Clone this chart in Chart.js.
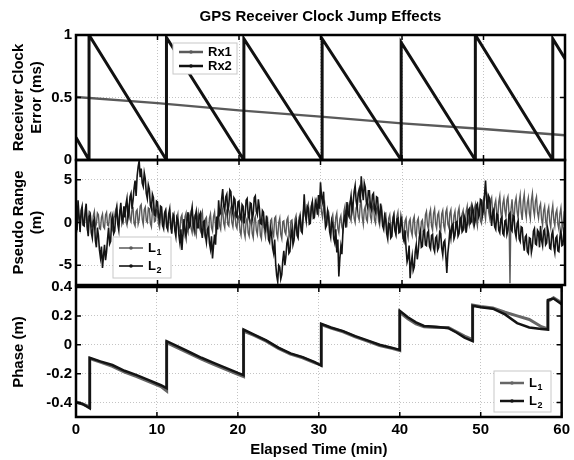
<!DOCTYPE html>
<html>
<head>
<meta charset="utf-8">
<script src="https://cdn.jsdelivr.net/npm/chart.js@4"></script>
<style>
  html, body { margin: 0; padding: 0; background: #fff; }
  #wrap { position: relative; width: 574px; height: 460px; }
  #wrap canvas { position: absolute; left: 0; top: 0; }
</style>
</head>
<body>
<div id="wrap">
  <canvas id="clockChart" width="574" height="460"></canvas>
  <canvas id="rangeChart" width="574" height="460"></canvas>
  <canvas id="phaseChart" width="574" height="460"></canvas>
</div>
<script>
// x axis
var timeTicks = [0, 10, 20, 30, 40, 50, 60];

// receiver clock error (ms)
var rx1Time = [0, 10, 20, 30, 40, 50, 60];
var rx1Err = [0.505, 0.455, 0.397, 0.347, 0.293, 0.248, 0.198];
var rx2Time = [0, 1.6, 1.6, 11.1, 11.1, 20.6, 20.6, 30.2, 30.2, 39.9, 39.9, 49.0, 49.0, 58.5, 58.5, 60];
var rx2Err = [0.18, 0, 1.0, 0, 0.98, 0, 0.97, 0, 0.97, 0, 0.94, 0, 1.0, 0, 0.97, 0.81];
var clockTicks = [0, 0.5, 1];

// pseudo range (m), one sample every 0.125 min, one row per minute
var rangeStep = 0.125;
var rangeL1 = [
  0.3, -0.5, 1.4, 0.4, -0.6, 0.7, 1.1, -0.2,
  -0.3, 0.9, 1.5, -0.4, 0.2, 1.3, 1.2, -0.5,
  -0.5, 0.8, 1.3, -0.6, -0.2, 1.1, 0.9, -0.7,
  -0.8, 0.6, 1.0, -0.5, -0.7, 0.9, 1.2, -0.3,
  -0.4, 0.9, 1.1, -0.6, -0.9, 0.5, 0.8, 1.5,
  1.9, 0.3, -0.1, 1.4, 1.6, -0.2, 0.2, 1.7,
  1.8, 0.1, -0.3, 1.5, 2.0, 0.4, 0.1, 1.6,
  1.7, -0.1, -0.4, 1.3, 1.5, -0.2, 0.3, 1.9,
  2.1, 0.4, -0.2, 1.5, 1.8, 0.2, 0.0, 1.7,
  1.6, -0.1, -0.5, 1.4, 1.9, 0.1, 0.2, 1.5,
  1.4, -0.2, -0.6, 1.1, 1.3, -0.4, -0.3, 1.2,
  1.5, -0.3, -0.8, 0.9, 1.2, -0.6, -0.4, 1.0,
  0.8, -0.8, -1.3, 0.5, 1.0, -0.7, -1.1, 0.6,
  0.9, -0.9, -1.4, 0.7, 1.1, -0.8, -1.2, 0.5,
  1.0, -0.7, -1.2, 0.4, 0.7, -1.0, -1.5, 0.3,
  1.1, -0.5, -0.9, 0.9, 1.3, -0.6, -1.3, 0.4,
  0.6, -1.0, -1.4, 0.5, 1.0, -0.6, -1.0, 0.7,
  1.2, -0.5, -1.1, 0.6, 0.9, -0.4, -0.8, 1.0,
  1.6, -0.1, -0.6, 1.1, 1.4, -0.2, -0.4, 1.3,
  1.7, 0.0, -0.5, 0.9, 1.2, -0.4, -0.7, 0.8,
  0.6, -1.0, -1.5, 0.3, 0.8, -1.1, -1.7, 0.2,
  0.5, -1.2, -1.6, 0.1, 0.4, -1.3, -1.8, 0.3,
  0.7, -0.9, -1.4, 0.2, 0.3, -1.5, -1.9, 0.1,
  0.6, -1.1, -1.7, 0.3, 0.5, -1.2, -1.5, 0.2,
  0.4, -1.2, -1.6, 0.5, 0.7, -1.3, -1.8, 0.0,
  0.5, -1.4, -1.9, 0.1, 0.2, -1.1, -1.4, 0.3,
  0.6, -1.2, -1.7, 0.2, 0.3, -1.3, -1.6, 0.4,
  0.8, -0.7, -1.2, 0.6, 1.0, -0.4, -0.8, 1.2,
  1.9, 0.8, 0.3, 1.8, 2.2, 0.9, 0.5, 2.0,
  2.4, 1.1, 0.7, 2.2, 2.6, 1.2, 0.9, 2.5,
  2.8, 1.2, 0.6, 1.9, 2.3, 0.7, 0.1, 1.5,
  1.2, -0.4, -1.0, 0.5, 0.9, -0.6, -1.1, 0.6,
  1.1, -0.7, -1.2, 0.4, 0.8, -0.5, -0.9, 1.3,
  1.9, 0.4, -0.1, 1.6, 2.1, 0.6, 0.2, 1.8,
  2.2, 0.5, 0.0, 1.7, 2.0, 0.7, 0.3, 2.1,
  2.4, 0.6, -0.2, 1.5, 1.9, 0.4, 0.1, 2.0,
  2.3, 0.7, 0.2, 1.8, 2.1, 0.3, -0.1, 1.6,
  1.8, 0.2, -0.3, 1.4, 1.7, 0.0, -0.4, 1.0,
  1.1, -0.6, -1.1, 0.5, 0.9, -0.7, -1.2, 0.6,
  1.0, -0.8, -1.3, 0.7, 1.2, -0.5, -0.9, 0.4,
  0.6, -1.1, -1.6, 0.2, 0.5, -1.2, -1.8, 0.1,
  0.4, -1.0, -1.5, 0.3, 0.7, -1.3, -1.7, 0.2,
  0.5, -1.3, -1.8, 0.1, 0.3, -1.0, -1.4, 0.9,
  1.3, -0.3, -0.8, 1.0, 1.5, -0.4, -0.9, 1.1,
  1.6, -0.2, -0.7, 0.9, 1.2, -0.5, -1.0, 1.0,
  1.4, -0.4, -0.9, 1.2, 1.6, -0.2, -0.6, 1.1,
  1.5, -0.5, -1.0, 0.8, 1.3, -0.3, -0.7, 1.2,
  1.7, -0.1, -0.6, 1.0, 1.4, -0.4, -0.8, 1.3,
  1.9, 0.2, -0.3, 1.5, 2.0, 0.3, -0.2, 1.6,
  2.1, 0.3, -0.4, 1.4, 1.8, 0.2, -0.1, 2.2,
  2.7, 1.2, 0.4, 2.3, 3.0, 1.3, 0.6, 2.5,
  2.9, 1.0, 0.3, 2.1, 2.6, 1.1, 0.5, 2.4,
  3.1, 1.2, 0.2, 2.2, 2.8, 1.4, 0.7, 2.6,
  3.0, 1.1, -7.1, 1.5, 2.7, 1.0, 0.4, 2.3,
  2.9, 1.3, 0.5, 2.4, 3.2, 1.2, 0.3, 2.5,
  3.3, 1.4, 0.6, 2.3, 2.9, 1.1, 0.4, 2.6,
  3.4, 1.6, 0.8, 2.5, 3.0, 1.2, 0.5, 1.8,
  2.2, 0.4, -0.3, 1.4, 1.9, 0.2, -0.5, 1.3,
  1.8, 0.1, -0.6, 1.2, 2.0, 0.3, -0.4, 1.1,
  1.5, -0.2, -0.8, 1.0, 1.7, 0.0, -0.7, 0.9,
  0.4
];
var rangeL2 = [
  0.2, -0.9, 2.6, 0.8, -1.1, 1.4, 1.9, -0.3,
  -0.4, 1.3, 2.2, -0.5, -1.6, 0.7, 0.9, -1.2,
  -1.8, 0.1, 0.4, -2.1, -2.9, -0.6, -1.5, -3.2,
  -4.1, -2.8, -5.3, -3.9, -2.6, -4.4, -3.4, -1.9,
  -0.6, -2.5, -2.2, 0.3, 0.8, -1.3, -1.0, 0.9,
  1.7, -0.2, -0.9, 1.2, 2.3, 0.4, 0.1, 1.9,
  0.6, 2.1, 2.8, 0.5, 1.2, 3.0, 3.4, 1.6,
  2.6, 4.0, 4.9, 3.1, 5.4, 6.5, 7.2, 5.3,
  6.3, 4.6, 4.2, 5.8, 5.1, 3.4, 2.8, 4.4,
  3.9, 2.0, 1.6, 3.3, 2.9, 0.9, 0.8, 2.5,
  2.4, 0.7, 0.2, 1.9, 1.8, -0.3, -0.7, 1.1,
  1.4, -0.5, -0.8, 1.0, 1.6, -0.4, -1.3, 0.5,
  0.9, -0.9, -1.6, 0.6, 0.3, -1.5, -2.4, -0.8,
  -3.2, -1.3, 0.4, -0.9, -1.7, 0.3, 1.2, -0.6,
  -0.4, 1.0, 1.8, -0.1, -0.9, 0.7, 1.3, -0.6,
  -0.6, 0.8, 1.1, -0.9, -1.8, 0.1, 0.2, -1.5,
  -2.3, -0.8, -0.6, -2.4, -3.1, -1.6, -4.2, -2.7,
  -1.4, -2.6, 0.7, -0.8, 2.6, 0.9, 1.1, 2.8,
  3.9, 1.9, 1.4, 3.0, 3.3, 1.2, 2.0, 3.8,
  3.6, 1.7, 1.0, 2.9, 2.7, 0.8, 0.6, 2.4,
  2.5, 0.6, 0.3, 2.1, 1.9, -0.1, 0.8, 2.6,
  2.8, 0.9, 0.4, 2.3, 2.2, 0.3, 1.0, 2.9,
  3.1, 1.3, 0.9, 2.7, 1.7, -0.1, -0.2, 1.4,
  1.2, -0.6, -0.9, 0.8, -0.4, -2.0, -2.3, -0.7,
  -1.4, -3.0, -3.6, -2.0, -4.8, -6.2, -6.9, -5.0,
  -5.2, -6.6, -6.1, -4.4, -3.3, -5.0, -4.0, -2.4,
  -1.9, -3.6, -3.4, -1.5, -0.8, -2.6, -2.1, -0.4,
  0.1, -1.5, -1.8, 0.2, 0.6, -1.0, -1.2, 0.7,
  3.3, 1.1, 0.2, 1.9, 1.7, -0.2, -0.1, 1.8,
  2.4, 0.5, 0.6, 2.5, 2.1, 0.9, 3.2, 1.6,
  4.7, 3.0, 2.4, 3.6, 1.0, -0.6, -0.3, 1.3,
  0.6, -1.1, -1.7, 0.2, -0.2, -1.9, -2.4, -0.8,
  -3.5, -2.0, -6.3, -4.2, -2.8, -3.7, -1.1, 0.3,
  0.9, -0.6, 2.4, 1.0, 0.7, 2.2, 3.1, 1.4,
  2.2, 3.6, 4.3, 2.5, 1.8, 3.4, 3.9, 2.3,
  5.4, 3.8, 2.6, 4.6, 4.1, 2.4, 1.9, 3.7,
  3.7, 1.9, 1.5, 3.2, 3.4, 1.6, 1.2, 3.0,
  2.9, 1.1, 0.4, 2.2, 1.3, -0.4, -0.8, 0.8,
  0.3, -1.3, -1.9, -0.1, -0.2, -1.8, -1.6, 0.2,
  0.8, -0.9, -1.4, 0.4, 0.5, -1.2, -1.1, 0.6,
  -0.3, -1.8, -2.2, -0.9, -3.0, -4.6, -4.1, -2.7,
  -6.5, -4.8, -3.9, -5.6, -5.2, -3.4, -2.6, -4.3,
  -3.3, -1.7, -1.1, -2.9, -2.8, -1.0, -0.9, -2.6,
  -2.7, -1.2, -1.0, -2.8, -3.1, -1.5, -1.4, -3.0,
  -3.4, -1.8, -1.6, -3.2, -2.9, -1.1, -1.3, -3.0,
  -3.8, -2.3, -2.1, -3.9, -5.9, -3.6, -2.4, -0.9,
  -1.8, -0.4, -0.2, -1.9, -1.5, 0.0, 0.1, -1.6,
  -1.3, 0.4, 0.6, -1.1, -0.9, 0.8, 0.4, -1.2,
  -0.2, 1.4, 1.6, -0.1, 0.1, 1.9, 1.4, -0.3,
  0.3, 2.0, 2.2, 0.6, 0.9, 2.7, 2.6, 0.8,
  1.4, 3.2, 4.9, 2.6, 1.6, 3.1, 2.8, 0.9,
  -0.4, 1.2, 1.5, -0.5, -0.8, 1.0, 0.9, -0.9,
  -1.2, 0.4, 0.6, -1.3, -1.5, 0.2, 0.3, -1.4,
  -0.9, 0.9, 1.1, -0.8, -1.0, 0.8, 0.7, -1.1,
  -1.7, -0.1, 0.2, -1.9, -2.2, -0.5, -0.6, -2.3,
  -3.3, -1.7, -1.5, -3.4, -3.6, -1.8, -1.9, -3.5,
  -2.8, -1.0, -0.7, -2.5, -2.6, -0.9, -1.1, -2.9,
  -0.4, -2.1, -2.7, -1.0, -0.8, -2.6, -2.4, -0.7,
  -1.3, -3.0, -3.1, -1.4, -1.0, -2.8, -3.5, -1.8,
  -1.6, -3.3, -3.4, -1.7, -0.9, -2.7, -2.6, -0.8,
  -1.0
];
var rangeTicks = [-5, 0, 5];

// carrier phase (m)
var phaseTime = [0, 0.8, 1.7, 1.7, 3, 4.5, 6, 7.5, 9, 10.5, 11.2, 11.2, 12.5, 14, 15.5, 17, 18.5, 20, 20.7, 20.7,
  22, 23.5, 25, 26.5, 28, 29.5, 30.3, 30.3, 31.5, 33, 34.5, 36, 37.5, 39, 40, 40, 41, 42, 43, 44.5, 46, 47, 48,
  49.0, 49.0, 50, 51.5, 53, 54.5, 56, 57.5, 58.3, 58.3, 59, 60];
var phaseL1 = [-0.395, -0.41, -0.43, -0.095, -0.12, -0.15, -0.19, -0.22, -0.255, -0.29, -0.32, 0.015, -0.02, -0.06,
  -0.10, -0.135, -0.17, -0.205, -0.22, 0.095, 0.065, 0.025, -0.025, -0.065, -0.09, -0.125, -0.14, 0.14, 0.115, 0.09,
  0.055, 0.025, -0.005, -0.025, -0.04, 0.225, 0.18, 0.145, 0.125, 0.12, 0.12, 0.09, 0.06, 0.035, 0.275, 0.265, 0.255,
  0.225, 0.20, 0.175, 0.125, 0.11, 0.30, 0.325, 0.29];
var phaseL2 = [-0.40, -0.41, -0.44, -0.09, -0.115, -0.14, -0.18, -0.21, -0.245, -0.28, -0.30, 0.025, -0.01, -0.05,
  -0.09, -0.125, -0.16, -0.195, -0.21, 0.105, 0.07, 0.03, -0.02, -0.06, -0.085, -0.12, -0.145, 0.145, 0.12, 0.095,
  0.06, 0.03, 0.0, -0.02, -0.035, 0.235, 0.19, 0.155, 0.13, 0.125, 0.115, 0.085, 0.05, 0.025, 0.27, 0.26, 0.25,
  0.21, 0.15, 0.12, 0.11, 0.105, 0.31, 0.32, 0.28];
var phaseTicks = [-0.4, -0.2, 0, 0.2, 0.4];

var fontFamily = '"Liberation Sans", Arial, sans-serif';
var boldFont = { family: fontFamily, size: 15, weight: 'bold' };

function points(xs, ys) {
  return ys.map(function (v, i) { return { x: xs[i], y: v }; });
}
function sampled(ys, step) {
  return ys.map(function (v, i) { return { x: i * step, y: v }; });
}
function fixedTicks(values) {
  return function (scale) { scale.ticks = values.map(function (v) { return { value: v }; }); };
}

function yAxis(min, max, ticks, title) {
  return {
    type: 'linear', position: 'left', min: min, max: max,
    afterBuildTicks: fixedTicks(ticks),
    afterFit: function (s) { s.width = 76; },
    ticks: { font: boldFont, color: '#000', padding: 4, callback: function (v) { return String(v); } },
    grid: { color: '#c4c4c4', lineWidth: 1, drawTicks: false },
    border: { display: false, dash: [1, 2] },
    title: { display: true, text: title, font: boldFont, color: '#000', padding: { top: 10, bottom: 0 } }
  };
}

function xAxis(showLabels) {
  return {
    type: 'linear', position: 'bottom', min: 0, max: 60,
    afterBuildTicks: fixedTicks(timeTicks),
    afterFit: function (s) { s.height = showLabels ? 43 : 0; },
    ticks: { display: showLabels, font: boldFont, color: '#000', padding: 4, maxRotation: 0,
      callback: function (v) { return String(v); } },
    grid: { color: '#c4c4c4', lineWidth: 1, drawTicks: false },
    border: { display: false, dash: [1, 2] },
    title: { display: showLabels, text: 'Elapsed Time (min)', font: boldFont, color: '#000',
      padding: { top: 0, bottom: 1 } }
  };
}

// box, inner tick marks and the small legend inside each panel
var panelDecor = {
  id: 'panelDecor',
  afterDraw: function (chart, args, opts) {
    var ctx = chart.ctx, a = chart.chartArea;
    var xs = chart.scales.x, ys = chart.scales.y;
    ctx.save();
    ctx.strokeStyle = '#000';
    ctx.lineWidth = 1.5;
    ctx.beginPath();
    xs.ticks.forEach(function (t) {
      var px = xs.getPixelForValue(t.value);
      ctx.moveTo(px, a.bottom); ctx.lineTo(px, a.bottom - 5);
      ctx.moveTo(px, a.top); ctx.lineTo(px, a.top + 5);
    });
    ys.ticks.forEach(function (t) {
      var py = ys.getPixelForValue(t.value);
      ctx.moveTo(a.left, py); ctx.lineTo(a.left + 5, py);
      ctx.moveTo(a.right, py); ctx.lineTo(a.right - 5, py);
    });
    ctx.stroke();
    ctx.lineWidth = 2.5;
    ctx.strokeRect(a.left, a.top, a.right - a.left, a.bottom - a.top);

    var lg = opts.legend;
    if (lg) {
      ctx.fillStyle = '#fff';
      ctx.fillRect(lg.x, lg.y, lg.w, lg.h);
      ctx.strokeStyle = '#c8c8c8';
      ctx.lineWidth = 1;
      ctx.strokeRect(lg.x, lg.y, lg.w, lg.h);
      chart.data.datasets.forEach(function (ds) {
        var y = lg.rows[ds.legendRow];
        ctx.strokeStyle = ds.borderColor;
        ctx.lineWidth = Math.max(1.5, Math.min(ds.borderWidth, 2.5));
        ctx.beginPath();
        ctx.moveTo(lg.lineX[0], y); ctx.lineTo(lg.lineX[1], y);
        ctx.stroke();
        ctx.fillStyle = ds.borderColor;
        ctx.beginPath();
        ctx.arc((lg.lineX[0] + lg.lineX[1]) / 2, y, 1.8, 0, Math.PI * 2);
        ctx.fill();
        ctx.fillStyle = '#000';
        ctx.textBaseline = 'middle';
        ctx.textAlign = 'left';
        ctx.font = 'bold 13px ' + fontFamily;
        ctx.fillText(ds.label, lg.textX, y);
        if (ds.labelSub) {
          var w = ctx.measureText(ds.label).width;
          ctx.font = 'bold 9px ' + fontFamily;
          ctx.fillText(ds.labelSub, lg.textX + w + 0.5, y + 5);
        }
      });
    }
    ctx.restore();
  }
};

var lineEl = { point: { radius: 0 }, line: { tension: 0 } };

new Chart(document.getElementById('clockChart'), {
  type: 'line',
  data: {
    datasets: [
      { label: 'Rx2', legendRow: 1, data: points(rx2Time, rx2Err), borderColor: '#111', borderWidth: 3 },
      { label: 'Rx1', legendRow: 0, data: points(rx1Time, rx1Err), borderColor: '#5a5a5a', borderWidth: 2.5 }
    ]
  },
  options: {
    responsive: false, animation: false, elements: lineEl,
    layout: { padding: { left: 0, right: 9, top: 0, bottom: 300 } },
    scales: { x: xAxis(false), y: yAxis(0, 1, clockTicks, ['Receiver Clock', 'Error (ms)']) },
    plugins: {
      legend: { display: false }, tooltip: { enabled: false },
      title: { display: true, fullSize: false, text: 'GPS Receiver Clock Jump Effects', font: boldFont, color: '#000',
        padding: { top: 8, bottom: 9 } },
      panelDecor: { legend: { x: 173, y: 43, w: 64, h: 31, rows: [52, 66], lineX: [179, 203], textX: 208 } }
    }
  },
  plugins: [panelDecor]
});

new Chart(document.getElementById('rangeChart'), {
  type: 'line',
  data: {
    datasets: [
      { label: 'L', labelSub: '2', legendRow: 1, data: sampled(rangeL2, rangeStep), borderColor: '#141414', borderWidth: 1.6 },
      { label: 'L', labelSub: '1', legendRow: 0, data: sampled(rangeL1, rangeStep), borderColor: '#5a5a5a', borderWidth: 1.4 }
    ]
  },
  options: {
    responsive: false, animation: false, elements: lineEl,
    layout: { padding: { left: 0, right: 9, top: 160, bottom: 175 } },
    scales: { x: xAxis(false), y: yAxis(-7.3, 7.3, rangeTicks, ['Pseudo Range', '(m)']) },
    plugins: {
      legend: { display: false }, tooltip: { enabled: false },
      panelDecor: { legend: { x: 113, y: 237, w: 58, h: 41, rows: [248, 266], lineX: [119, 143], textX: 148 } }
    }
  },
  plugins: [panelDecor]
});

new Chart(document.getElementById('phaseChart'), {
  type: 'line',
  data: {
    datasets: [
      { label: 'L', labelSub: '2', legendRow: 1, data: points(phaseTime, phaseL2), borderColor: '#141414', borderWidth: 2.5 },
      { label: 'L', labelSub: '1', legendRow: 0, data: points(phaseTime, phaseL1), borderColor: '#666', borderWidth: 3 }
    ]
  },
  options: {
    responsive: false, animation: false, elements: lineEl,
    layout: { padding: { left: 0, right: 9, top: 287, bottom: 0 } },
    scales: { x: xAxis(true), y: yAxis(-0.5, 0.4, phaseTicks, 'Phase (m)') },
    plugins: {
      legend: { display: false }, tooltip: { enabled: false },
      panelDecor: { legend: { x: 494, y: 371, w: 57, h: 41, rows: [383, 401], lineX: [500, 524], textX: 529 } }
    }
  },
  plugins: [panelDecor]
});
</script>
</body>
</html>
